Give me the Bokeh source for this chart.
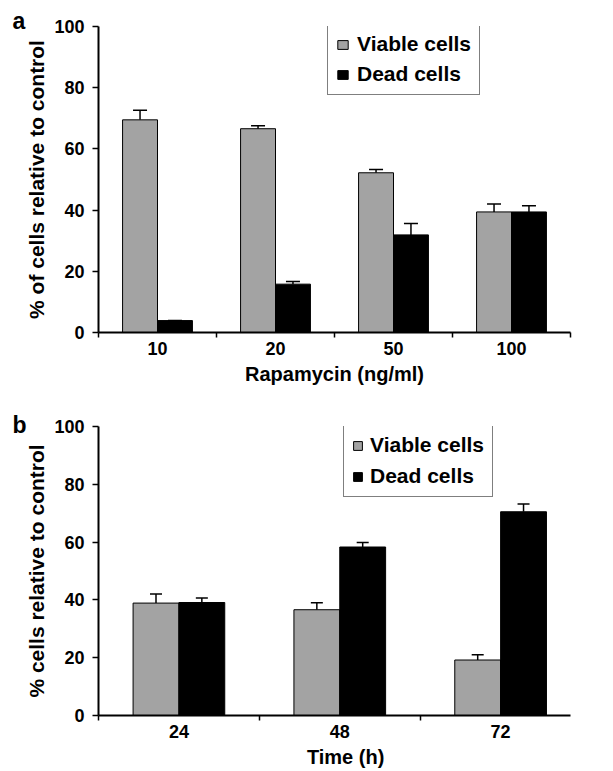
from bokeh.plotting import figure
from bokeh.models import (ColumnDataSource, Range1d, FixedTicker, Whisker, TeeHead,
                          Legend, LegendItem, Label)
from bokeh.layouts import column
from bokeh.embed import file_html
from bokeh.resources import INLINE

# ---- data ----
doses = ["10", "20", "50", "100"]
viable_a = [69.5, 66.6, 52.2, 39.4]
viable_err_a = [3.1, 1.0, 1.1, 2.6]
dead_a = [3.9, 15.8, 31.9, 39.4]
dead_err_a = [0.0, 0.9, 3.7, 2.0]

times = ["24", "48", "72"]
viable_b = [38.9, 36.6, 19.2]
viable_err_b = [3.1, 2.4, 1.8]
dead_b = [39.1, 58.3, 70.5]
dead_err_b = [1.6, 1.6, 2.7]

y_ticks = [0, 20, 40, 60, 80, 100]
series_names = ["Viable cells", "Dead cells"]

FONT = "Liberation Sans"
GRAY = "#a3a3a3"


def panel(cats, viable, verr, dead, derr, height, top, bottom, right, x_end,
          bw, cap, leg_xy, glyph_w, glyph_h, leg_standoff, leg_spacing, ylabel,
          xlabel, xlabel_standoff, tag, tag_y):
    n = len(cats)
    xc = list(range(1, n + 1))
    p = figure(width=613, height=height, output_backend="svg", toolbar_location=None,
               x_range=Range1d(0.5, x_end), y_range=Range1d(0, 100),
               min_border_left=98, min_border_right=right,
               min_border_top=top, min_border_bottom=bottom)
    p.outline_line_color = None
    p.xgrid.visible = False
    p.ygrid.visible = False
    p.background_fill_color = "white"

    # panel tag ("a" / "b") placed in the panel above the frame
    p.add_layout(Label(x=-86, y=tag_y, x_units="screen", y_units="screen", text=tag,
                       text_font=FONT, text_font_style="bold", text_font_size="23px",
                       text_color="black", text_baseline="alphabetic"), "above")

    src = ColumnDataSource(dict(
        xv=[x - bw / 2 for x in xc], xd=[x + bw / 2 for x in xc],
        viable=viable, vup=[v + e for v, e in zip(viable, verr)],
        dead=dead, dup=[v + e for v, e in zip(dead, derr)]))

    rv = p.vbar(x="xv", top="viable", bottom=0, width=bw, source=src,
                fill_color=GRAY, line_color="black", line_width=1)
    rd = p.vbar(x="xd", top="dead", bottom=0, width=bw, source=src,
                fill_color="black", line_color="black", line_width=1)
    for base, lo, up in (("xv", "viable", "vup"), ("xd", "dead", "dup")):
        w = Whisker(source=src, base=base, lower=lo, upper=up, dimension="height",
                    line_color="black", line_width=1.5, lower_head=None,
                    upper_head=TeeHead(size=cap, line_color="black", line_width=1.5))
        p.add_layout(w)

    xa = p.xaxis[0]
    xa.ticker = FixedTicker(ticks=xc, minor_ticks=[i + 0.5 for i in range(0, n + 1)])
    xa.major_label_overrides = {x: c for x, c in zip(xc, cats)}
    xa.major_tick_out = 0
    xa.major_tick_in = 0
    xa.minor_tick_out = 5
    xa.minor_tick_in = 0
    xa.minor_tick_line_width = 1.5
    xa.minor_tick_line_color = "black"
    xa.axis_line_width = 2
    xa.axis_line_color = "black"
    xa.major_label_text_font = FONT
    xa.major_label_text_font_style = "bold"
    xa.major_label_text_font_size = "18px"
    xa.major_label_text_color = "black"
    xa.major_label_standoff = 4
    xa.axis_label = xlabel
    xa.axis_label_text_font = FONT
    xa.axis_label_text_font_style = "bold"
    xa.axis_label_text_font_size = "20px"
    xa.axis_label_text_color = "black"
    xa.axis_label_standoff = xlabel_standoff

    ya = p.yaxis[0]
    ya.ticker = FixedTicker(ticks=y_ticks, minor_ticks=[])
    ya.major_tick_out = 6
    ya.major_tick_in = 0
    ya.major_tick_line_width = 1.5
    ya.major_tick_line_color = "black"
    ya.axis_line_width = 2
    ya.axis_line_color = "black"
    ya.major_label_text_font = FONT
    ya.major_label_text_font_style = "bold"
    ya.major_label_text_font_size = "18px"
    ya.major_label_text_color = "black"
    ya.major_label_standoff = 8
    ya.axis_label = ylabel
    ya.axis_label_text_font = FONT
    ya.axis_label_text_font_style = "bold"
    ya.axis_label_text_font_size = "21px"
    ya.axis_label_text_color = "black"
    ya.axis_label_standoff = 3

    leg = Legend(items=[LegendItem(label=series_names[0], renderers=[rv]),
                        LegendItem(label=series_names[1], renderers=[rd])],
                 location=leg_xy, margin=0, padding=8, spacing=leg_spacing,
                 glyph_width=glyph_w, glyph_height=glyph_h, label_standoff=leg_standoff,
                 label_text_font=FONT, label_text_font_style="bold",
                 label_text_font_size="21px", label_text_color="black",
                 border_line_color="black", border_line_width=1,
                 background_fill_color="white", background_fill_alpha=1.0)
    p.add_layout(leg)
    return p


# Panel a
pa = panel(doses, viable_a, viable_err_a, dead_a, dead_err_a,
           height=392, top=25, bottom=60, right=43, x_end=4.5,
           bw=0.296, cap=14, leg_xy=(229, 237), glyph_w=13, glyph_h=11,
           leg_standoff=8, leg_spacing=6, ylabel="% of cells relative to control",
           xlabel="Rapamycin (ng/ml)", xlabel_standoff=5, tag="a", tag_y=6)

# Panel b (its axis runs on past the right edge in the original)
pb = panel(times, viable_b, viable_err_b, dead_b, dead_err_b,
           height=379, top=34, bottom=56, right=0, x_end=0.5 + 515 / 175.5,
           bw=0.285, cap=12, leg_xy=(245, 218), glyph_w=11, glyph_h=11,
           leg_standoff=7, leg_spacing=7, ylabel="% cells relative to control",
           xlabel="\u00a0\u00a0\u00a0\u00a0Time (h)", xlabel_standoff=5, tag="b", tag_y=2)

layout = column(pa, pb, spacing=0)
open("out.html", "w").write(file_html(layout, INLINE))
